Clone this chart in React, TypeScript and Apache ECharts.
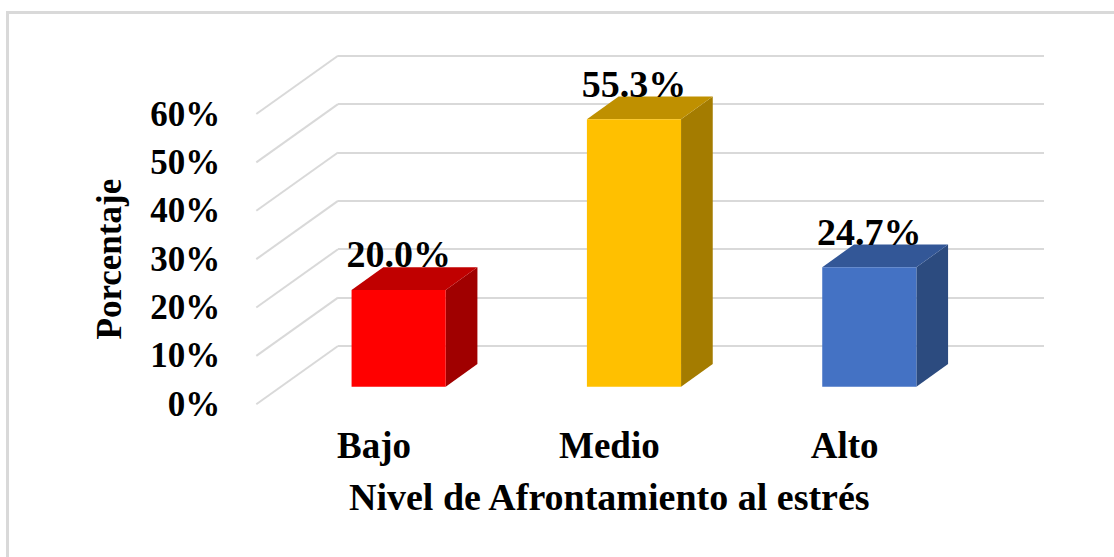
import React, { useEffect, useRef } from "react";
import * as echarts from "echarts";

// ---- data ----
const categories: string[] = ["Bajo", "Medio", "Alto"];
const values: number[] = [20.0, 55.3, 24.7];
const yTicks: number[] = [0, 10, 20, 30, 40, 50, 60];
const frontColors: string[] = ["#FF0000", "#FFC000", "#4472C4"];
const topColors: string[] = ["#C00000", "#BF9000", "#335797"];
const sideColors: string[] = ["#A00000", "#A47C00", "#2C4B7F"];
const xTitle = "Nivel de Afrontamiento al estrés";
const yTitle = "Porcentaje";

// ---- geometry (pixels) ----
const BACK = { left: 338, right: 70, top: 55.7, bottom: 211 };
const DX = -81.7; // depth vector, back wall -> front edge
const DY = 58.3;
const FRONT = {
  left: BACK.left + DX,
  right: BACK.right - DX,
  top: BACK.top + DY,
  bottom: BACK.bottom - DY,
};
const BAR_FRONT = 0.698;
const BAR_BACK = 0.31;
const BAR_HALF = 0.2;

const FONT = "'Liberation Serif', 'Times New Roman', serif";
const GRID_COLOR = "#d9d9d9";

export default function App() {
  const ref = useRef<HTMLDivElement>(null);

  useEffect(() => {
    if (!ref.current) return;
    const chart = echarts.init(ref.current, undefined, { renderer: "svg" });

    const barData = values.map((v, i) => [i, v]);
    const tickData = yTicks.map((v) => [0, v]);

    const option: any = {
      animation: false,
      backgroundColor: "#ffffff",
      graphic: [
        {
          type: "rect",
          z: -10,
          shape: { x: 7.5, y: 12.5, width: 1300, height: 700 },
          style: { fill: "none", stroke: GRID_COLOR, lineWidth: 3 },
          silent: true,
        },
      ],
      grid: [
        { left: BACK.left, right: BACK.right, top: BACK.top, bottom: BACK.bottom, containLabel: false },
        { left: FRONT.left, right: FRONT.right, top: FRONT.top, bottom: FRONT.bottom, containLabel: false },
      ],
      xAxis: [
        {
          type: "category",
          gridIndex: 0,
          data: categories,
          show: false,
        },
        {
          type: "category",
          gridIndex: 1,
          data: categories,
          axisLine: { show: false },
          axisTick: { show: false },
          splitLine: { show: false },
          axisLabel: {
            color: "#000",
            fontFamily: FONT,
            fontWeight: "bold",
            fontSize: 37,
            margin: 23,
          },
          name: xTitle,
          nameLocation: "middle",
          nameGap: 74,
          nameTextStyle: {
            color: "#000",
            fontFamily: FONT,
            fontWeight: "bold",
            fontSize: 38,
          },
        },
      ],
      yAxis: [
        {
          type: "value",
          gridIndex: 0,
          min: 0,
          max: 60,
          interval: 10,
          axisLine: { show: false },
          axisTick: { show: false },
          axisLabel: { show: false },
          splitLine: { show: true, lineStyle: { color: GRID_COLOR, width: 2 } },
        },
        {
          type: "value",
          gridIndex: 1,
          min: 0,
          max: 60,
          interval: 10,
          axisLine: { show: false },
          axisTick: { show: false },
          splitLine: { show: false },
          axisLabel: {
            color: "#000",
            fontFamily: FONT,
            fontWeight: "bold",
            fontSize: 35,
            margin: 36,
            padding: [6, 0, 0, 0],
            formatter: "{value}%",
          },
          name: yTitle,
          nameLocation: "middle",
          nameGap: 129,
          nameTextStyle: {
            color: "#000",
            fontFamily: FONT,
            fontWeight: "bold",
            fontSize: 35,
          },
        },
      ],
      series: [
        {
          type: "custom",
          name: "side-wall",
          xAxisIndex: 0,
          yAxisIndex: 0,
          z: 1,
          silent: true,
          data: tickData,
          encode: { x: 0, y: 1 },
          renderItem: (params: any, api: any) => {
            const p = api.coord([0, api.value(1)]);
            const band = api.size([1, 0])[0];
            const lx = p[0] - band / 2;
            return {
              type: "line",
              shape: { x1: lx, y1: p[1], x2: lx + DX, y2: p[1] + DY },
              style: { stroke: GRID_COLOR, lineWidth: 2 },
            };
          },
        },
        {
          type: "custom",
          name: "bars",
          xAxisIndex: 0,
          yAxisIndex: 0,
          z: 5,
          data: barData,
          encode: { x: 0, y: 1 },
          renderItem: (params: any, api: any) => {
            const i = api.value(0);
            const v = api.value(1);
            const base = api.coord([i, 0]);
            const top = api.coord([i, v]);
            const band = api.size([1, 0])[0];
            const hw = band * BAR_HALF;
            const x0f = base[0] - hw + DX * BAR_FRONT;
            const x1f = base[0] + hw + DX * BAR_FRONT;
            const x0b = base[0] - hw + DX * BAR_BACK;
            const x1b = base[0] + hw + DX * BAR_BACK;
            const ybf = base[1] + DY * BAR_FRONT;
            const ytf = top[1] + DY * BAR_FRONT;
            const ybb = base[1] + DY * BAR_BACK;
            const ytb = top[1] + DY * BAR_BACK;
            const idx = params.dataIndex;
            return {
              type: "group",
              children: [
                {
                  type: "polygon",
                  shape: { points: [[x1f, ytf], [x1b, ytb], [x1b, ybb], [x1f, ybf]] },
                  style: { fill: sideColors[idx] },
                },
                {
                  type: "polygon",
                  shape: { points: [[x0f, ytf], [x1f, ytf], [x1b, ytb], [x0b, ytb]] },
                  style: { fill: topColors[idx] },
                },
                {
                  type: "rect",
                  shape: { x: x0f, y: ytf, width: x1f - x0f, height: ybf - ytf },
                  style: { fill: frontColors[idx] },
                },
                {
                  type: "text",
                  x: base[0] + DX * BAR_FRONT,
                  y: ytb + 6,
                  style: {
                    text: v.toFixed(1) + "%",
                    fill: "#000",
                    font: "bold 38px " + FONT,
                    align: "center",
                    verticalAlign: "bottom",
                  },
                },
              ],
            };
          },
        },
      ],
    };

    chart.setOption(option);
    return () => {
      chart.dispose();
    };
  }, []);

  return (
    <div
      ref={ref}
      style={{ position: "fixed", left: 0, top: 0, width: 1114, height: 557, background: "#fff" }}
    />
  );
}
